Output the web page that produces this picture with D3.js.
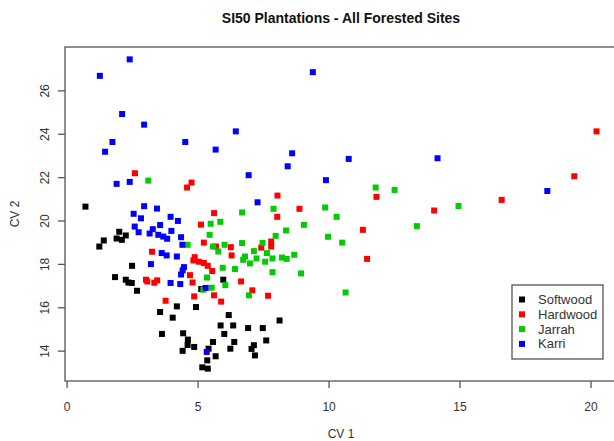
<!DOCTYPE html>
<html>
<head>
<meta charset="utf-8">
<script src="https://cdn.jsdelivr.net/npm/d3@7"></script>
<style>
  body { margin: 0; background: #fff; }
  text { font-family: "Liberation Sans", Arial, sans-serif; }
</style>
</head>
<body>
<div id="chart"></div>
<script>
// data (CV 1 / CV 2 per site group)
var groups = ["Softwood", "Hardwood", "Jarrah", "Karri"];
var groupColors = ["#000000", "#ff0000", "#00cd00", "#0000ff"];

var softwoodX = [0.72, 2.01, 2.26, 1.91, 2.11, 1.42, 1.25, 2.50, 1.85, 2.26, 2.36, 2.49, 5.98, 2.69, 5.14,
  4.21, 4.94, 3.57, 6.19, 4.05, 5.88, 6.36, 6.93, 3.64, 4.45, 6.02, 4.63, 5.59, 6.40, 4.62, 4.87,
  7.15, 7.06, 6.25, 5.42, 4.43, 7.19, 5.69, 5.37, 5.18, 5.39, 8.13, 7.49, 7.62];
var softwoodY = [20.64, 19.48, 19.31, 19.17, 19.11, 19.08, 18.80, 17.91, 17.39, 17.27, 17.14, 17.12, 17.27, 16.76, 16.84,
  16.04, 16.01, 15.78, 15.64, 15.52, 15.16, 15.16, 15.04, 14.77, 14.80, 14.77, 14.51, 14.40, 14.40, 14.26, 14.17,
  14.25, 14.08, 14.09, 14.09, 13.99, 13.78, 13.74, 13.55, 13.23, 13.17, 15.39, 15.04, 14.47];

var hardwoodX = [2.61, 4.77, 4.60, 5.63, 5.13, 5.24, 5.70, 6.27, 3.26, 6.30, 4.89, 4.84, 5.05, 5.24, 5.39,
  5.56, 4.71, 3.03, 3.08, 3.35, 3.46, 4.81, 6.66, 7.09, 5.63, 4.87, 5.90, 3.78, 8.05, 11.83,
  8.89, 14.03, 8.04, 11.31, 7.81, 7.81, 7.43, 11.47, 7.69, 20.23, 19.38, 16.61];
var hardwoodY = [22.18, 21.75, 21.52, 20.34, 19.81, 18.98, 18.80, 18.77, 18.56, 18.39, 18.31, 18.16, 18.10, 18.04, 17.91,
  17.67, 17.48, 17.27, 17.19, 17.13, 17.24, 17.14, 17.19, 16.78, 16.55, 16.50, 16.26, 16.30, 21.15, 21.09,
  20.54, 20.46, 20.17, 19.57, 19.03, 18.80, 18.75, 18.23, 16.53, 24.11, 22.04, 20.95];

var jarrahX = [3.12, 6.70, 5.50, 5.87, 5.46, 4.62, 5.59, 6.03, 6.70, 5.79, 6.81, 6.74, 7.15, 7.25, 7.00,
  5.96, 6.43, 5.36, 6.06, 5.22, 5.54, 6.96, 11.80, 12.52, 7.90, 9.87, 10.31, 9.06, 8.38, 13.37,
  7.98, 9.98, 10.52, 7.48, 7.65, 8.69, 7.86, 8.22, 8.40, 7.58, 7.86, 8.95, 10.65, 14.96];
var jarrahY = [21.84, 20.37, 19.85, 19.94, 19.34, 18.88, 18.80, 18.88, 18.96, 18.57, 18.34, 18.19, 18.59, 18.25, 18.02,
  17.82, 17.76, 17.37, 17.02, 16.81, 16.90, 16.55, 21.52, 21.41, 20.54, 20.60, 20.17, 19.80, 19.54, 19.74,
  19.29, 19.25, 18.98, 18.97, 18.50, 18.42, 18.25, 18.29, 18.23, 18.10, 17.62, 17.56, 16.68, 20.67];

var karriX = [2.41, 1.27, 2.12, 2.96, 6.46, 1.75, 4.53, 5.69, 1.47, 1.91, 2.41, 6.95, 7.29, 2.96, 3.45, 2.56,
  2.84, 3.97, 4.25, 3.57, 2.60, 3.29, 2.75, 4.00, 3.17, 3.50, 3.69, 3.84, 4.37, 4.42, 3.63, 3.82,
  4.21, 3.22, 4.48, 4.43, 4.37, 3.97, 4.34, 5.31, 5.35, 9.40, 8.61, 10.77, 14.16, 8.44, 9.90, 18.35];
var karriY = [27.43, 26.67, 24.91, 24.42, 24.11, 23.62, 23.62, 23.27, 23.17, 21.69, 21.78, 22.09, 20.84, 20.66, 20.55, 20.31,
  20.10, 20.17, 19.98, 19.79, 19.72, 19.60, 19.46, 19.52, 19.40, 19.34, 19.26, 19.16, 19.23, 18.88, 18.50, 18.39,
  18.34, 17.99, 17.85, 17.70, 17.51, 17.12, 17.07, 16.89, 13.94, 26.84, 23.10, 22.84, 22.87, 22.50, 21.86, 21.36];

var xTicks = [0, 5, 10, 15, 20];
var yTicks = [14, 16, 18, 20, 22, 24, 26];

var allX = [softwoodX, hardwoodX, jarrahX, karriX];
var allY = [softwoodY, hardwoodY, jarrahY, karriY];

var width = 614;
var height = 441;
// plot region (right edge runs past the picture like in the original)
var plotL = 65, plotR = 617, plotT = 47, plotB = 381;
var axisColor = "#555";
var textColor = "#333";

// like R: extend the data range by 4% on each side
function padded(arrs) {
  var ext = d3.extent(d3.merge(arrs));
  var pad = (ext[1] - ext[0]) * 0.04;
  return [ext[0] - pad, ext[1] + pad];
}

var x = d3.scaleLinear().domain(padded(allX)).range([plotL, plotR]);
var y = d3.scaleLinear().domain(padded(allY)).range([plotB, plotT]);

var svg = d3.select("#chart")
  .append("svg")
    .attr("width", width)
    .attr("height", height)
    .style("background", "#fff");

// title
svg.append("text")
  .attr("x", (plotL + plotR) / 2)
  .attr("y", 23)
  .attr("text-anchor", "middle")
  .style("font-size", "14px")
  .style("font-weight", "bold")
  .style("fill", "#111")
  .text("SI50 Plantations - All Forested Sites");

// points, one group after the other
groups.forEach(function (g, k) {
  var pts = allX[k].map(function (v, i) { return [v, allY[k][i]]; });
  svg.append("g")
    .selectAll("rect")
    .data(pts).enter()
    .append("rect")
      .attr("x", function (d) { return x(d[0]) - 3; })
      .attr("y", function (d) { return y(d[1]) - 3; })
      .attr("width", 6)
      .attr("height", 6)
      .style("fill", groupColors[k]);
});

// plot box
svg.append("rect")
  .attr("x", plotL)
  .attr("y", plotT)
  .attr("width", plotR - plotL)
  .attr("height", plotB - plotT)
  .style("fill", "none")
  .style("stroke", axisColor)
  .style("stroke-width", 1.3);

// x axis
var xAxis = svg.append("g")
  .attr("transform", "translate(0," + plotB + ")")
  .call(d3.axisBottom(x).tickValues(xTicks).tickSize(7).tickPadding(14).tickFormat(d3.format("d")));
xAxis.select(".domain").remove();
xAxis.selectAll("line").style("stroke", axisColor).style("stroke-width", 1.3);
xAxis.selectAll("text").style("font-size", "12px").style("fill", textColor)
  .style("font-family", "Liberation Sans, Arial, sans-serif");

// y axis, labels turned like R does
var yAxis = svg.append("g")
  .attr("transform", "translate(" + plotL + ",0)")
  .call(d3.axisLeft(y).tickValues(yTicks).tickSize(7).tickFormat(d3.format("d")));
yAxis.select(".domain").remove();
yAxis.selectAll("line").style("stroke", axisColor).style("stroke-width", 1.3);
yAxis.selectAll("text")
  .attr("x", 0)
  .attr("dy", 0)
  .attr("text-anchor", "middle")
  .attr("transform", "translate(-16,0) rotate(-90)")
  .style("font-size", "12px").style("fill", textColor)
  .style("font-family", "Liberation Sans, Arial, sans-serif");

// axis titles
svg.append("text")
  .attr("x", (plotL + plotR) / 2)
  .attr("y", 438)
  .attr("text-anchor", "middle")
  .style("font-size", "12px")
  .style("fill", textColor)
  .text("CV 1");

svg.append("text")
  .attr("transform", "translate(19," + (plotT + plotB) / 2 + ") rotate(-90)")
  .attr("text-anchor", "middle")
  .style("font-size", "12px")
  .style("fill", textColor)
  .text("CV 2");

// legend
var legend = svg.append("g");
legend.append("rect")
  .attr("x", 512)
  .attr("y", 285)
  .attr("width", 91)
  .attr("height", 74)
  .style("fill", "#fff")
  .style("stroke", axisColor)
  .style("stroke-width", 1.3);

legend.selectAll(".key")
  .data(groups).enter()
  .append("rect")
    .attr("x", 519)
    .attr("y", function (d, i) { return 296.5 + i * 14.8; })
    .attr("width", 6)
    .attr("height", 6)
    .style("fill", function (d, i) { return groupColors[i]; });

legend.selectAll(".lab")
  .data(groups).enter()
  .append("text")
    .attr("x", 538)
    .attr("y", function (d, i) { return 304 + i * 14.8; })
    .style("font-size", "13px")
    .style("fill", textColor)
    .text(function (d) { return d; });
</script>
</body>
</html>
